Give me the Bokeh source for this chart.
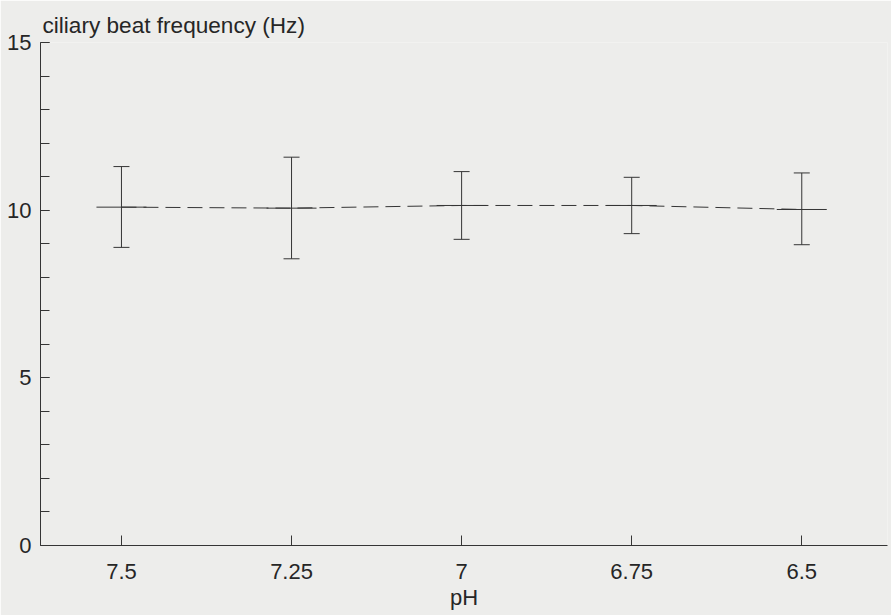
from bokeh.plotting import figure
from bokeh.models import (Range1d, FixedTicker, SingleIntervalTicker, Whisker,
                          ColumnDataSource, TeeHead)
from bokeh.embed import file_html
from bokeh.resources import INLINE

# ---- data ----
ph_values = [7.5, 7.25, 7.0, 6.75, 6.5]
ph_labels = ["7.5", "7.25", "7", "6.75", "6.5"]
cbf_mean = [10.09, 10.06, 10.14, 10.14, 10.02]
cbf_upper = [11.30, 11.58, 11.15, 10.98, 11.11]
cbf_lower = [8.89, 8.55, 9.13, 9.30, 8.97]
y_label = "ciliary beat frequency (Hz)"
x_label = "pH"

BG = "#ededeb"
INK = "#353535"
TXT = "#262626"
FONT = "Liberation Sans"
FS = "22px"

src = ColumnDataSource(dict(x=ph_values, y=cbf_mean, up=cbf_upper, lo=cbf_lower))

p = figure(width=891, height=615, output_backend="svg", toolbar_location=None,
           x_range=Range1d(7.619, 6.374), y_range=Range1d(0, 15),
           min_border_left=40, min_border_right=4, min_border_top=42,
           min_border_bottom=70)
p.background_fill_color = BG
p.border_fill_color = BG
p.outline_line_color = None
p.xgrid.visible = False
p.ygrid.visible = False

# y-axis caption drawn as a left-aligned title above the frame
p.title.text = y_label
p.title.align = "left"
p.title.text_font = FONT
p.title.text_font_size = "22.6px"
p.title.text_font_style = "normal"
p.title.text_color = TXT
p.title.standoff = 9
p.title.offset = 2

# dashed connecting line
p.line("x", "y", source=src, line_color=INK, line_width=1, line_dash="15 7")
# horizontal bar at each mean
p.scatter("x", "y", source=src, marker="dash", size=50, line_color=INK, line_width=1)
# error bars
w = Whisker(source=src, base="x", upper="up", lower="lo", dimension="height",
            line_color=INK, line_width=1,
            upper_head=TeeHead(size=16, line_color=INK, line_width=1),
            lower_head=TeeHead(size=16, line_color=INK, line_width=1))
p.add_layout(w)

# axes
xa = p.xaxis[0]
xa.ticker = FixedTicker(ticks=ph_values, minor_ticks=[])
xa.major_label_overrides = {v: l for v, l in zip(ph_values, ph_labels)}
xa.major_tick_in = 10
xa.major_tick_out = 0
xa.minor_tick_line_color = None
xa.axis_line_color = INK
xa.major_tick_line_color = INK
xa.major_label_text_font = FONT
xa.major_label_text_font_size = FS
xa.major_label_text_color = TXT
xa.major_label_standoff = 18
xa.axis_label = x_label
xa.axis_label_text_font = FONT
xa.axis_label_text_font_size = FS
xa.axis_label_text_font_style = "normal"
xa.axis_label_text_color = TXT
xa.axis_label_standoff = 3

ya = p.yaxis[0]
ya.ticker = SingleIntervalTicker(interval=5, num_minor_ticks=5)
ya.major_tick_in = 9
ya.major_tick_out = 0
ya.minor_tick_in = 9
ya.minor_tick_out = 0
ya.axis_line_color = INK
ya.major_tick_line_color = INK
ya.minor_tick_line_color = INK
ya.major_label_text_font = FONT
ya.major_label_text_font_size = FS
ya.major_label_text_color = TXT
ya.major_label_standoff = 9

open("out.html", "w").write(file_html(p, INLINE))
